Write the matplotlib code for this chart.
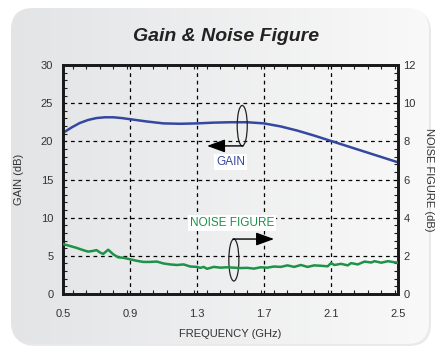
import numpy as np
import matplotlib
matplotlib.use("Agg")
import matplotlib.pyplot as plt
from matplotlib.patches import FancyBboxPatch, Ellipse
from matplotlib.ticker import MultipleLocator
from matplotlib.colors import LinearSegmentedColormap

plt.rcParams['font.family'] = ['Liberation Sans', 'DejaVu Sans']

# ---- data ----
gain_freq = [0.5, 0.55, 0.6, 0.65, 0.7, 0.75, 0.8, 0.85, 0.9, 1.0, 1.1, 1.2, 1.3,
             1.4, 1.5, 1.6, 1.7, 1.8, 1.9, 2.0, 2.1, 2.2, 2.3, 2.4, 2.5]
gain_db = [21.1, 21.8, 22.4, 22.8, 23.05, 23.15, 23.15, 23.05, 22.9, 22.6, 22.35, 22.3, 22.35,
           22.45, 22.5, 22.5, 22.35, 21.95, 21.4, 20.75, 20.05, 19.35, 18.65, 17.95, 17.25]

nf_freq = [0.5, 0.54, 0.58, 0.62, 0.65, 0.68, 0.70, 0.72, 0.74, 0.77, 0.80, 0.83, 0.86, 0.9,
           0.94, 0.98, 1.02, 1.06, 1.10, 1.14, 1.18, 1.22, 1.26, 1.30, 1.32, 1.34, 1.36,
           1.40, 1.44, 1.48, 1.52, 1.56, 1.60, 1.64, 1.68, 1.72, 1.76, 1.80, 1.84, 1.88,
           1.92, 1.96, 2.00, 2.04, 2.08, 2.10, 2.12, 2.16, 2.20, 2.22, 2.26, 2.30, 2.34,
           2.36, 2.40, 2.44, 2.48, 2.5]
nf_db = [2.62, 2.52, 2.42, 2.3, 2.22, 2.26, 2.3, 2.18, 2.1, 2.32, 2.08, 1.92, 1.9, 1.82,
         1.74, 1.68, 1.68, 1.7, 1.6, 1.55, 1.52, 1.55, 1.44, 1.42, 1.37, 1.42, 1.32,
         1.42, 1.38, 1.40, 1.38, 1.36, 1.37, 1.33, 1.40, 1.38, 1.44, 1.42, 1.50, 1.42,
         1.52, 1.42, 1.50, 1.48, 1.45, 1.62, 1.52, 1.58, 1.50, 1.62, 1.55, 1.70, 1.65,
         1.72, 1.64, 1.72, 1.66, 1.64]

x_ticks = [0.5, 0.9, 1.3, 1.7, 2.1, 2.5]
gain_ticks = [0, 5, 10, 15, 20, 25, 30]
nf_ticks = [0, 2, 4, 6, 8, 10, 12]

GAIN_C = '#3548a0'
NF_C = '#1d9248'
TXT_C = '#333333'

fig = plt.figure(figsize=(4.38, 3.51), dpi=100)
fig.patch.set_facecolor('white')

# background panel with gradient and rounded corners
bg = fig.add_axes([0, 0, 1, 1])
bg.set_xlim(0, 438)
bg.set_ylim(351, 0)
bg.axis('off')
shadow = FancyBboxPatch((13, 10), 418, 336, boxstyle="round,pad=0,rounding_size=22",
                        facecolor='#d4d4d4', edgecolor='none', alpha=0.5)
bg.add_patch(shadow)
panel = FancyBboxPatch((11, 8), 418, 336, boxstyle="round,pad=0,rounding_size=22",
                       facecolor='none', edgecolor='none')
bg.add_patch(panel)
grad = np.linspace(0, 1, 256).reshape(1, -1)
cmap = LinearSegmentedColormap.from_list('g', ['#e3e4e6', '#f9f9f9'])
im = bg.imshow(grad, extent=(10, 430, 345, 7), cmap=cmap, aspect='auto', zorder=1)
im.set_clip_path(panel)

ax = fig.add_axes([63/438, 1-294/351, (398-63)/438, (294-65)/351])
ax.set_facecolor('none')
ax2 = ax.twinx()

ax.plot(gain_freq, gain_db, color=GAIN_C, lw=1.8, zorder=3)
ax2.plot(nf_freq, nf_db, color=NF_C, lw=1.8, zorder=3)

ax.set_xlim(0.5, 2.5)
ax.set_ylim(0, 30)
ax2.set_ylim(0, 12)
ax.set_xticks(x_ticks)
ax.set_xticklabels(['%.1f' % v for v in x_ticks])
ax.set_yticks(gain_ticks)
ax2.set_yticks(nf_ticks)
ax.xaxis.set_minor_locator(MultipleLocator(0.08))
ax.yaxis.set_minor_locator(MultipleLocator(1))
ax2.yaxis.set_minor_locator(MultipleLocator(0.4))

ax.grid(True, which='major', color='black', linestyle=(0, (3, 3)), lw=0.9)

for a in (ax, ax2):
    for s in a.spines.values():
        s.set_linewidth(2)
        s.set_color('#1a1a1a')
ax.tick_params(which='both', direction='in', top=True, color='#1a1a1a')
ax.tick_params(which='major', length=0, labelsize=8, labelcolor=TXT_C)
ax.tick_params(axis='x', which='major', pad=11)
ax.tick_params(axis='y', which='major', pad=7)
ax.tick_params(which='minor', length=3, width=0.8)
ax2.tick_params(which='major', length=0, labelsize=8, labelcolor=TXT_C, pad=4)
ax2.tick_params(which='minor', direction='in', length=3, width=0.8, color='#1a1a1a')

ax.set_xlabel('FREQUENCY (GHz)', fontsize=8, color=TXT_C, labelpad=7)
ax.set_ylabel('GAIN (dB)', fontsize=8, color=TXT_C, labelpad=12)
ax2.set_ylabel('NOISE FIGURE (dB)', fontsize=8, color=TXT_C, rotation=-90, labelpad=13)

fig.text(0.515, 0.895, 'Gain & Noise Figure', ha='center', va='center',
         fontsize=14, fontweight='bold', fontstyle='italic', color='#222222')

# annotations (gain axis data coords)
ax.add_patch(Ellipse((1.57, 22.05), 0.06, 5.3, facecolor='none', edgecolor='#222222', lw=0.9, zorder=4))
ax.annotate('', xy=(1.36, 19.4), xytext=(1.575, 19.4),
            arrowprops=dict(arrowstyle='-|>,head_length=1.1,head_width=0.4',
                            color='black', lw=1, shrinkA=0, shrinkB=0), zorder=5)
ax.text(1.5, 17.3, 'GAIN', ha='center', va='center', fontsize=8.5, color=GAIN_C,
        bbox=dict(facecolor='white', edgecolor='none', pad=1.5), zorder=5)

ax.add_patch(Ellipse((1.52, 4.45), 0.06, 5.5, facecolor='none', edgecolor='#222222', lw=0.9, zorder=4))
ax.annotate('', xy=(1.76, 7.2), xytext=(1.515, 7.2),
            arrowprops=dict(arrowstyle='-|>,head_length=1.1,head_width=0.4',
                            color='black', lw=1, shrinkA=0, shrinkB=0), zorder=5)
ax.text(1.51, 9.3, 'NOISE FIGURE', ha='center', va='center', fontsize=8.5, color=NF_C,
        bbox=dict(facecolor='white', edgecolor='none', pad=1.5), zorder=5)

fig.savefig('out.png', dpi=100)
